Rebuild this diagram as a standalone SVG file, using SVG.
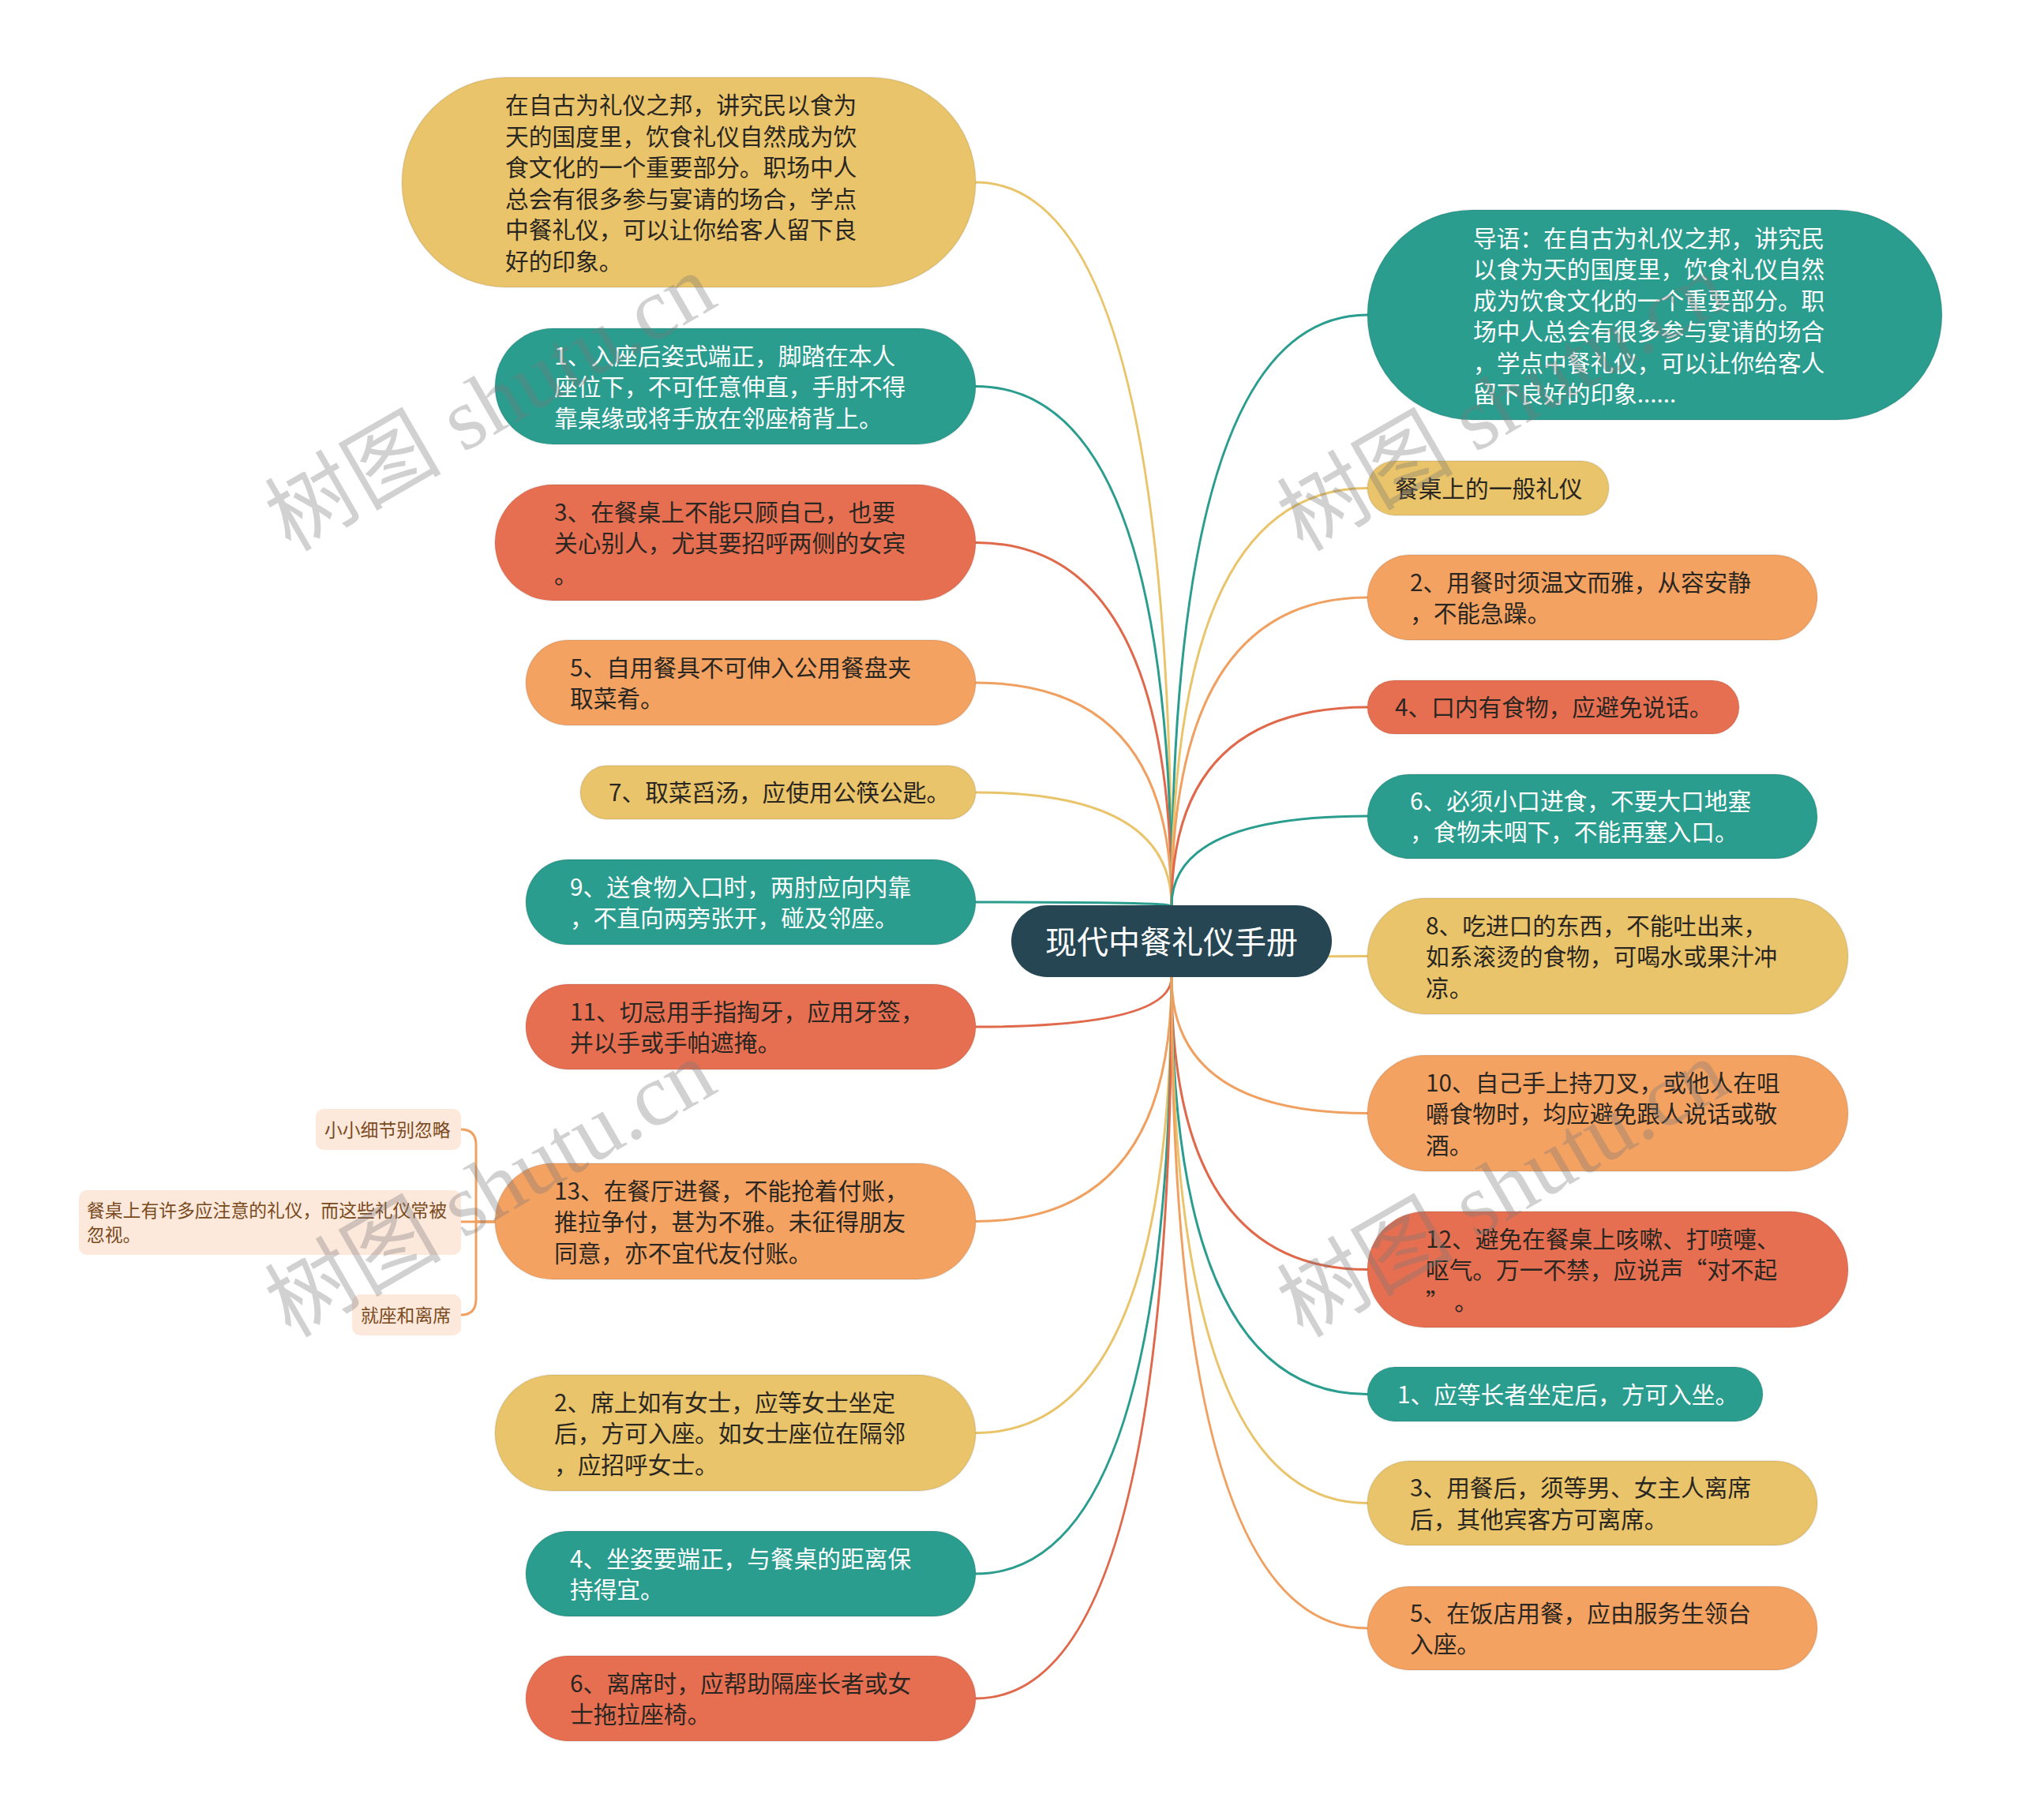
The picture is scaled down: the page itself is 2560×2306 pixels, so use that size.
<svg xmlns="http://www.w3.org/2000/svg" width="2560" height="2306" viewBox="0 0 2560 2306">
<style>
text{font-family:"Noto Sans CJK SC","Noto Sans",sans-serif;}
.t{font-size:29.7px;dominant-baseline:central;}
.dk{fill:#2a2622;}
.wh{fill:#ffffff;}
.nd{stroke:#000;stroke-opacity:0.07;stroke-width:2;}
.y{fill:#e9c46a;} .o{fill:#f4a261;} .r{fill:#e76f51;} .g{fill:#2a9d8f;}
.c{fill:none;stroke-width:3;}
.cy{stroke:#e9c46a;} .co{stroke:#f0a060;} .cr{stroke:#e0684b;} .cg{stroke:#2a9d8f;}
.sub{fill:#fde9dc;}
.st{font-size:22.8px;fill:#7a4a20;dominant-baseline:central;}
.wm{font-family:"Liberation Serif","Noto Sans CJK SC",serif;font-size:112px;fill:#777;fill-opacity:0.34;}
</style>
<g id="connectors">
<path class="c cy" d="M1484 1148 Q1484 231 1236 231"/>
<path class="c cg" d="M1484 1148 Q1484 489.5 1236 489.5"/>
<path class="c cr" d="M1484 1148 Q1484 687.5 1236 687.5"/>
<path class="c co" d="M1484 1148 Q1484 865 1236 865"/>
<path class="c cy" d="M1484 1148 Q1484 1004 1236 1004"/>
<path class="c cg" d="M1484 1148 Q1484 1143 1236 1143"/>
<path class="c cr" d="M1484 1238 Q1484 1301 1236 1301"/>
<path class="c co" d="M1484 1238 Q1484 1547.5 1236 1547.5"/>
<path class="c cy" d="M1484 1238 Q1484 1815.5 1236 1815.5"/>
<path class="c cg" d="M1484 1238 Q1484 1994 1236 1994"/>
<path class="c cr" d="M1484 1238 Q1484 2152 1236 2152"/>
<path class="c cg" d="M1484 1148 Q1484 399 1732 399"/>
<path class="c cy" d="M1484 1148 Q1484 618.5 1732 618.5"/>
<path class="c co" d="M1484 1148 Q1484 757 1732 757"/>
<path class="c cr" d="M1484 1148 Q1484 896 1732 896"/>
<path class="c cg" d="M1484 1148 Q1484 1034 1732 1034"/>
<path class="c cy" d="M1484 1238 Q1484 1211.5 1732 1211.5"/>
<path class="c co" d="M1484 1238 Q1484 1410.5 1732 1410.5"/>
<path class="c cr" d="M1484 1238 Q1484 1608.5 1732 1608.5"/>
<path class="c cg" d="M1484 1238 Q1484 1766.5 1732 1766.5"/>
<path class="c cy" d="M1484 1238 Q1484 1904.5 1732 1904.5"/>
<path class="c co" d="M1484 1238 Q1484 2063 1732 2063"/>
<path class="c co" stroke-width="2.5" d="M627 1548 L584 1548"/>
<path class="c co" stroke-width="2.5" d="M627 1548 L603 1548 L603 1451 Q603 1431 584 1431"/>
<path class="c co" stroke-width="2.5" d="M627 1548 L603 1548 L603 1646 Q603 1666 584 1666"/>
</g>
<g id="root">
<rect x="1281" y="1147" width="406" height="91" rx="45.5" fill="#264653"/>
<text x="1484" y="1191" font-size="40" fill="#fff" text-anchor="middle" dominant-baseline="central">现代中餐礼仪手册</text>
</g>
<g id="L0">
<rect class="nd y" x="509" y="98" width="727" height="266" rx="133"/>
<text class="t dk"><tspan x="640" y="131">在自古为礼仪之邦，讲究民以食为</tspan><tspan x="640" y="170.5">天的国度里，饮食礼仪自然成为饮</tspan><tspan x="640" y="210">食文化的一个重要部分。职场中人</tspan><tspan x="640" y="249.5">总会有很多参与宴请的场合，学点</tspan><tspan x="640" y="289">中餐礼仪，可以让你给客人留下良</tspan><tspan x="640" y="328.5">好的印象。</tspan></text>
</g>
<g id="L1">
<rect class="nd g" x="627" y="416" width="609" height="147" rx="73.5"/>
<text class="t wh"><tspan x="702" y="448.5">1、入座后姿式端正，脚踏在本人</tspan><tspan x="702" y="488">座位下，不可任意伸直，手肘不得</tspan><tspan x="702" y="527.5">靠桌缘或将手放在邻座椅背上。</tspan></text>
</g>
<g id="L2">
<rect class="nd r" x="627" y="614" width="609" height="147" rx="73.5"/>
<text class="t dk"><tspan x="702" y="646.5">3、在餐桌上不能只顾自己，也要</tspan><tspan x="702" y="686">关心别人，尤其要招呼两侧的女宾</tspan><tspan x="702" y="725.5">。</tspan></text>
</g>
<g id="L3">
<rect class="nd o" x="666" y="811" width="570" height="108" rx="54"/>
<text class="t dk"><tspan x="722" y="843.75">5、自用餐具不可伸入公用餐盘夹</tspan><tspan x="722" y="883.25">取菜肴。</tspan></text>
</g>
<g id="L4">
<rect class="nd y" x="735" y="970" width="501" height="68" rx="34"/>
<text class="t dk" x="771" y="1002.5">7、取菜舀汤，应使用公筷公匙。</text>
</g>
<g id="L5">
<rect class="nd g" x="666" y="1089" width="570" height="108" rx="54"/>
<text class="t wh"><tspan x="722" y="1121.75">9、送食物入口时，两肘应向内靠</tspan><tspan x="722" y="1161.25">，不直向两旁张开，碰及邻座。</tspan></text>
</g>
<g id="L6">
<rect class="nd r" x="666" y="1247" width="570" height="108" rx="54"/>
<text class="t dk"><tspan x="722" y="1279.75">11、切忌用手指掏牙，应用牙签，</tspan><tspan x="722" y="1319.25">并以手或手帕遮掩。</tspan></text>
</g>
<g id="L7">
<rect class="nd o" x="627" y="1474" width="609" height="147" rx="73.5"/>
<text class="t dk"><tspan x="702" y="1506.5">13、在餐厅进餐，不能抢着付账，</tspan><tspan x="702" y="1546">推拉争付，甚为不雅。未征得朋友</tspan><tspan x="702" y="1585.5">同意，亦不宜代友付账。</tspan></text>
</g>
<g id="S1">
<rect class="sub" x="400" y="1405" width="184" height="52" rx="10"/>
<text class="st" x="411" y="1430">小小细节别忽略</text>
</g>
<g id="S2">
<rect class="sub" x="100" y="1508" width="484" height="82" rx="10"/>
<text class="st"><tspan x="110" y="1532">餐桌上有许多应注意的礼仪，而这些礼仪常被</tspan><tspan x="110" y="1563">忽视。</tspan></text>
</g>
<g id="S3">
<rect class="sub" x="446" y="1640" width="138" height="52" rx="10"/>
<text class="st" x="457" y="1665">就座和离席</text>
</g>
<g id="L8">
<rect class="nd y" x="627" y="1742" width="609" height="147" rx="73.5"/>
<text class="t dk"><tspan x="702" y="1774.5">2、席上如有女士，应等女士坐定</tspan><tspan x="702" y="1814">后，方可入座。如女士座位在隔邻</tspan><tspan x="702" y="1853.5">，应招呼女士。</tspan></text>
</g>
<g id="L9">
<rect class="nd g" x="666" y="1940" width="570" height="108" rx="54"/>
<text class="t wh"><tspan x="722" y="1972.75">4、坐姿要端正，与餐桌的距离保</tspan><tspan x="722" y="2012.25">持得宜。</tspan></text>
</g>
<g id="L10">
<rect class="nd r" x="666" y="2098" width="570" height="108" rx="54"/>
<text class="t dk"><tspan x="722" y="2130.75">6、离席时，应帮助隔座长者或女</tspan><tspan x="722" y="2170.25">士拖拉座椅。</tspan></text>
</g>
<g id="R0">
<rect class="nd g" x="1732" y="266" width="728" height="266" rx="133"/>
<text class="t wh"><tspan x="1866" y="299.5">导语：在自古为礼仪之邦，讲究民</tspan><tspan x="1866" y="339">以食为天的国度里，饮食礼仪自然</tspan><tspan x="1866" y="378.5">成为饮食文化的一个重要部分。职</tspan><tspan x="1866" y="418">场中人总会有很多参与宴请的场合</tspan><tspan x="1866" y="457.5">，学点中餐礼仪，可以让你给客人</tspan><tspan x="1866" y="497">留下良好的印象......</tspan></text>
</g>
<g id="R1">
<rect class="nd y" x="1732" y="584" width="306" height="69" rx="34.5"/>
<text class="t dk" x="1767" y="617">餐桌上的一般礼仪</text>
</g>
<g id="R2">
<rect class="nd o" x="1732" y="703" width="570" height="108" rx="54"/>
<text class="t dk"><tspan x="1786" y="735.75">2、用餐时须温文而雅，从容安静</tspan><tspan x="1786" y="775.25">，不能急躁。</tspan></text>
</g>
<g id="R3">
<rect class="nd r" x="1732" y="862" width="471" height="68" rx="34"/>
<text class="t dk" x="1767" y="894.5">4、口内有食物，应避免说话。</text>
</g>
<g id="R4">
<rect class="nd g" x="1732" y="981" width="570" height="107" rx="53.5"/>
<text class="t wh"><tspan x="1786" y="1012.75">6、必须小口进食，不要大口地塞</tspan><tspan x="1786" y="1052.25">，食物未咽下，不能再塞入口。</tspan></text>
</g>
<g id="R5">
<rect class="nd y" x="1732" y="1138" width="609" height="147" rx="73.5"/>
<text class="t dk"><tspan x="1806" y="1170.5">8、吃进口的东西，不能吐出来，</tspan><tspan x="1806" y="1210">如系滚烫的食物，可喝水或果汁冲</tspan><tspan x="1806" y="1249.5">凉。</tspan></text>
</g>
<g id="R6">
<rect class="nd o" x="1732" y="1337" width="609" height="147" rx="73.5"/>
<text class="t dk"><tspan x="1806" y="1369.5">10、自己手上持刀叉，或他人在咀</tspan><tspan x="1806" y="1409">嚼食物时，均应避免跟人说话或敬</tspan><tspan x="1806" y="1448.5">酒。</tspan></text>
</g>
<g id="R7">
<rect class="nd r" x="1732" y="1535" width="609" height="147" rx="73.5"/>
<text class="t dk"><tspan x="1806" y="1567.5">12、避免在餐桌上咳嗽、打喷嚏、</tspan><tspan x="1806" y="1607">呕气。万一不禁，应说声“对不起</tspan><tspan x="1806" y="1646.5">” 。</tspan></text>
</g>
<g id="R8">
<rect class="nd g" x="1732" y="1732" width="501" height="69" rx="34.5"/>
<text class="t wh" x="1770" y="1765">1、应等长者坐定后，方可入坐。</text>
</g>
<g id="R9">
<rect class="nd y" x="1732" y="1851" width="570" height="107" rx="53.5"/>
<text class="t dk"><tspan x="1786" y="1883.25">3、用餐后，须等男、女主人离席</tspan><tspan x="1786" y="1922.75">后，其他宾客方可离席。</tspan></text>
</g>
<g id="R10">
<rect class="nd o" x="1732" y="2010" width="570" height="106" rx="53"/>
<text class="t dk"><tspan x="1786" y="2041.75">5、在饭店用餐，应由服务生领台</tspan><tspan x="1786" y="2081.25">入座。</tspan></text>
</g>
<g id="watermarks">
<text class="wm" transform="translate(368 700) rotate(-30)">树图 shutu.cn</text>
<text class="wm" transform="translate(1650 700) rotate(-30)">树图 shutu.cn</text>
<text class="wm" transform="translate(368 1696) rotate(-30)">树图 shutu.cn</text>
<text class="wm" transform="translate(1650 1696) rotate(-30)">树图 shutu.cn</text>
</g>
</svg>
